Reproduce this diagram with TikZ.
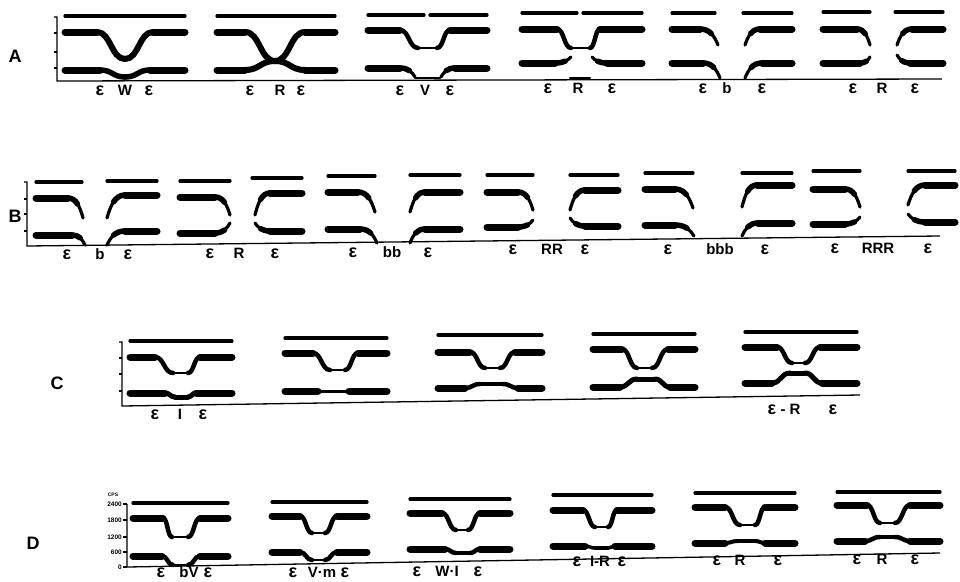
\documentclass[tikz,border=0pt]{standalone}
\usepackage{fontspec}
\setmainfont{Liberation Sans}
\newcommand\E{{\fontsize{18}{18}\selectfont ε}}
\newcommand\Fth[3]{\draw[fthree] (#1,#3) -- (#2,#3);}
\newcommand\Dip[9][]{%
 \pgfmathsetmacro\dpa{(#3+#4)/2}\pgfmathsetmacro\dpb{(#5+#6)/2}%
 \draw[fmt] (#2,#8) -- (#3,#8) (#6,#8) -- (#7,#8);
 \draw[trn,#1] (#3,#8) .. controls (\dpa,#8) and (\dpa,#9) .. (#4,#9);
 \draw[trn,#1] (#5,#9) .. controls (\dpb,#9) and (\dpb,#8) .. (#6,#8);
 \draw[bot,#1] (#4,#9) -- (#5,#9);}
\newcommand\Half[5]{%
 \pgfmathsetmacro\bda{#2+0.55*(#4-#2)}\pgfmathsetmacro\bdb{#4-0.2*(#4-#2)}\pgfmathsetmacro\bdc{#3+0.45*(#5-#3)}%
 \pgfmathsetmacro\qax{(#2+\bda)/2}%
 \pgfmathsetmacro\qbx{(#2+2*\bda+\bdb)/4}\pgfmathsetmacro\qby{(3*#3+\bdc)/4}%
 \pgfmathsetmacro\mmx{(#2+3*\bda+3*\bdb+#4)/8}\pgfmathsetmacro\mmy{(4*#3+3*\bdc+#5)/8}%
 \draw[fmt] (#1,#3) -- (#2,#3);
 \draw[trn,line width=5.5pt] (#2,#3) .. controls (\qax,#3) and (\qbx,\qby) .. (\mmx,\mmy);
 \draw[trn,line width=3.2pt] (#2,#3) .. controls (\bda,#3) and (\bdb,\bdc) .. (#4,#5);}
\newcommand\Lb[3]{\node[lbl] (L-#1-#2) at (#1,#2) {#3};}
\begin{document}
\begin{tikzpicture}[x=1pt,y=-1pt,
 fthree/.style={line width=3.2pt,line cap=round},
 fmt/.style={line width=7pt,line cap=round},
 trn/.style={line width=4.5pt,line cap=round,line join=round},
 bot/.style={line width=2.5pt,line cap=round},
 axis/.style={line width=1.3pt},
 lbl/.style={font=\bfseries\fontsize{15}{15}\selectfont,inner sep=0pt,anchor=base},
 rowlbl/.style={font=\bfseries\fontsize{18}{18}\selectfont,inner sep=0pt},
 ticklbl/.style={font=\bfseries\fontsize{6.5}{6.5}\selectfont,inner sep=0pt,anchor=east}]
\useasboundingbox (0,0) rectangle (960,581);
% ================= Row A
\node[rowlbl] (rA) at (15,56) {A};
\draw[axis] (54,17) -- (57,17) -- (57,81) -- (942,79);
\draw[axis] (54,33)--(57,33) (54,52)--(57,52) (54,68)--(57,68);
% A1
\Fth{65}{185}{16}
\Dip[line width=6pt]{65}{97}{125}{125}{153}{185}{32}{59}
\Dip[line width=5.5pt]{65}{100}{125}{125}{150}{185}{70}{77}
% A2
\Fth{217}{335}{16}
\Dip[line width=6pt]{217}{245}{275}{275}{305}{335}{32}{61}
\Dip[line width=6pt]{217}{245}{275}{275}{305}{335}{70}{61}
% A3
\Fth{368}{424}{15}\Fth{430}{487}{15}
\Dip{368}{400}{418}{437}{450}{487}{30}{48}
\Half{368}{400}{68}{415}{77}
\Half{487}{455}{68}{441}{77}
\draw[bot] (415,78) -- (440,78);
% A4
\Fth{522}{577}{13}\Fth{583}{642}{13}
\Dip{522}{557}{571}{590}{600}{642}{29}{48}
\Half{522}{555}{63}{571}{57}
\Half{642}{607}{63}{592}{57}
\draw[bot] (570,78) -- (590,78);
% A5
\Fth{672}{715}{13}\Fth{743}{792}{13}
\Half{672}{700}{29}{718}{45}
\Half{792}{760}{29}{745}{45}
\Half{672}{703}{63}{720}{78}
\Half{792}{762}{63}{745}{78}
% A6
\Fth{823}{870}{12}\Fth{895}{943}{12}
\Half{823}{857}{29}{870}{45}
\Half{943}{912}{29}{897}{45}
\Half{823}{860}{63}{870}{57}
\Half{943}{910}{63}{897}{55}
% labels A
\Lb{100}{95}{\E}\Lb{125}{95}{W}\Lb{149}{95}{\E}
\Lb{250}{95}{\E}\Lb{280}{95}{R}\Lb{301}{95}{\E}
\Lb{400}{95}{\E}\Lb{425}{95}{V}\Lb{450}{95}{\E}
\Lb{548}{93}{\E}\Lb{578}{93}{R}\Lb{612}{93}{\E}
\Lb{703}{93}{\E}\Lb{727}{93}{b}\Lb{762}{93}{\E}
\Lb{853}{93}{\E}\Lb{882}{93}{R}\Lb{915}{93}{\E}
% ================= Row B
\node[rowlbl] (rB) at (15,216) {B};
\draw[axis] (24,182) -- (27,182) -- (27,246) -- (940,236);
\draw[axis] (24,199)--(27,199) (24,214)--(27,214) (24,231)--(27,231);
% B1
\Fth{36}{82}{182}\Half{36}{68}{198}{83}{218}\Half{36}{72}{235}{85}{245}
\Fth{107}{157}{181}\Half{157}{125}{195}{107}{218}\Half{157}{125}{231}{107}{245}
% B2
\Fth{180}{230}{181}\Half{180}{215}{197}{230}{215}\Half{180}{215}{233}{230}{223}
\Fth{252}{302}{178}\Half{302}{270}{193}{255}{215}\Half{302}{270}{231}{255}{223}
% B3
\Fth{328}{375}{176}\Half{328}{358}{192}{375}{212}\Half{328}{360}{229}{377}{243}
\Fth{410}{460}{175}\Half{460}{425}{192}{410}{212}\Half{460}{425}{229}{410}{243}
% B4
\Fth{487}{533}{175}\Half{487}{518}{192}{533}{210}\Half{487}{518}{227}{533}{220}
\Fth{570}{618}{175}\Half{618}{585}{190}{570}{210}\Half{618}{585}{226}{570}{218}
% B5
\Fth{645}{693}{173}\Half{645}{675}{189}{693}{208}\Half{645}{675}{225}{694}{236}
\Fth{742}{792}{173}\Half{792}{757}{185}{742}{207}\Half{792}{758}{223}{742}{236}
% B6
\Fth{813}{860}{171}\Half{813}{845}{189}{860}{207}\Half{813}{845}{224}{860}{217}
\Fth{908}{955}{171}\Half{955}{925}{185}{908}{205}\Half{955}{925}{222}{908}{214}
% labels B
\Lb{67}{259}{\E}\Lb{100}{259}{b}\Lb{128}{259}{\E}
\Lb{210}{258}{\E}\Lb{239}{258}{R}\Lb{275}{258}{\E}
\Lb{353}{257}{\E}\Lb{392}{257}{bb}\Lb{428}{257}{\E}
\Lb{513}{254}{\E}\Lb{552}{254}{RR}\Lb{585}{254}{\E}
\Lb{668}{254}{\E}\Lb{720}{254}{bbb}\Lb{765}{254}{\E}
\Lb{835}{253}{\E}\Lb{878}{253}{RRR}\Lb{928}{253}{\E}
% ================= Row C
\node[rowlbl] (rC) at (57,383) {C};
\draw[axis] (119,342) -- (122,342) -- (122,406) -- (860,395);
\draw[axis] (119,358)--(122,358) (119,374)--(122,374) (119,391)--(122,391);
% C1
\Fth{130}{232}{341}
\Dip{130}{155}{173}{188}{200}{232}{357}{373}
\Dip[line width=5pt]{130}{165}{175}{188}{196}{232}{393}{397}
% C2
\Fth{285}{387}{338}
\Dip{285}{313}{330}{345}{358}{387}{353}{370}
\draw[fmt] (285,391) -- (318,391) (349,391) -- (387,391);
\draw[line width=3pt] (316,391) -- (351,391);
% C3
\Fth{438}{542}{335}
\Dip{438}{470}{485}{500}{515}{542}{352}{368}
\Dip[line width=4.5pt]{438}{465}{480}{503}{518}{542}{388}{384}
% C4
\Fth{593}{695}{334}
\Dip{593}{622}{637}{652}{668}{695}{349}{368}
\Dip[line width=5pt]{593}{620}{637}{655}{670}{695}{387}{379}
% C5
\Fth{745}{857}{332}
\Dip{745}{777}{792}{805}{820}{857}{347}{363}
\Dip[line width=5pt]{745}{772}{790}{805}{822}{857}{383}{373}
% labels C
\Lb{155}{419}{\E}\Lb{180}{419}{I}\Lb{203}{419}{\E}
\Lb{772}{414}{\E}\Lb{783}{414}{-}\Lb{795}{414}{R}\Lb{833}{414}{\E}
% ================= Row D
\node[rowlbl] (rD) at (33,543) {D};
\draw[axis] (127,504) -- (127,567) -- (940,553);
\draw[axis] (123,504)--(127,504) (123,520)--(127,520) (123,537)--(127,537) (123,552)--(127,552) (123,567)--(127,567);
\node[ticklbl,font=\bfseries\fontsize{5}{5}\selectfont,anchor=center] (cps) at (113,495) {CPS};
\node[ticklbl] (t2400) at (122,504) {2400};
\node[ticklbl] (t1800) at (122,520) {1800};
\node[ticklbl] (t1200) at (122,537) {1200};
\node[ticklbl] (t600) at (122,552) {600};
\node[ticklbl] (t0) at (122,567) {0};
% D1
\Fth{133}{228}{503}
\Dip{133}{163}{172}{188}{200}{228}{518}{537}
\Dip{133}{162}{173}{188}{200}{228}{556}{565}
% D2
\Fth{272}{367}{502}
\Dip{272}{300}{312}{325}{337}{367}{516}{533}
\Dip{272}{300}{312}{325}{337}{367}{552}{560}
% D3
\Fth{410}{510}{499}
\Dip{410}{442}{456}{468}{480}{510}{513}{530}
\Dip[line width=4.5pt]{410}{445}{456}{470}{480}{510}{549}{553}
% D4
\Fth{553}{652}{495}
\Dip{553}{583}{595}{608}{617}{652}{510}{527}
\Dip[line width=3.5pt]{553}{585}{595}{608}{615}{652}{546}{548}
% D5
\Fth{695}{795}{493}
\Dip{695}{725}{740}{755}{765}{795}{507}{525}
\Dip[line width=4pt]{695}{725}{738}{755}{765}{795}{543}{541}
% D6
\Fth{837}{940}{492}
\Dip{837}{867}{880}{895}{910}{940}{505}{523}
\Dip[line width=4.5pt]{837}{865}{880}{895}{910}{940}{541}{537}
% labels D
\Lb{161}{577}{\E}\Lb{189}{577}{bV}\Lb{208}{577}{\E}
\Lb{293}{577}{\E}\Lb{322}{577}{V·m}\Lb{345}{577}{\E}
\Lb{417}{576}{\E}\Lb{447}{576}{W·I}\Lb{478}{576}{\E}
\Lb{577}{566}{\E}\Lb{600}{566}{I-R}\Lb{622}{566}{\E}
\Lb{717}{565}{\E}\Lb{740}{565}{R}\Lb{778}{565}{\E}
\Lb{857}{564}{\E}\Lb{882}{564}{R}\Lb{915}{564}{\E}
\end{tikzpicture}
\end{document}
